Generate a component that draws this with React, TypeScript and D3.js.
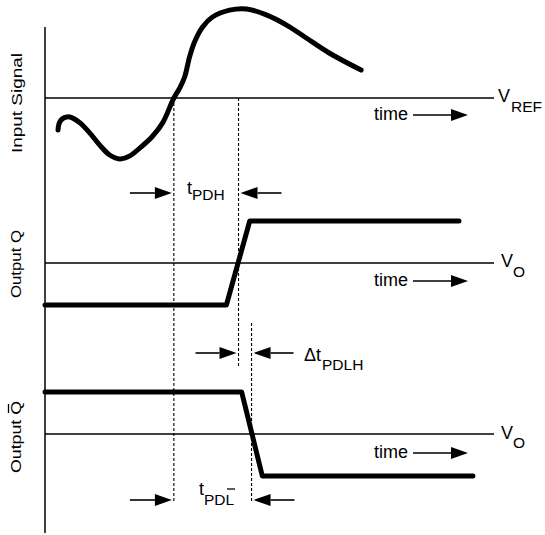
import * as d3 from "d3";
import * as React from "react";

// input signal, time in arbitrary units, volts relative to VREF
const inputTimes = [2.9, 3.1, 3.8, 4.9, 6.2, 7.8, 10.0, 12.2, 14.4, 16.7, 18.9, 21.1, 23.8, 26.2, 28.7, 30.0, 31.1, 32.2, 33.3, 35.1, 37.3, 41.1, 44.9, 49.3, 53.8, 58.2, 63.3, 70.4];
const inputValues = [-1.07, -0.87, -0.7, -0.63, -0.67, -0.83, -1.17, -1.57, -1.9, -2.03, -1.93, -1.67, -1.3, -0.83, 0, 0.33, 0.7, 1.37, 1.87, 2.37, 2.7, 2.93, 2.97, 2.77, 2.43, 2.0, 1.5, 0.93];

// outputs: 0 = low, 1 = high
const qTimes = [0, 40.4, 45.6, 92.2];
const qLevels = [0, 0, 1, 1];
const qbarTimes = [0, 43.8, 48.4, 95.3];
const qbarLevels = [1, 1, 0, 0];

// crossing instants: input at VREF, Q at VO, Qbar at VO
const crossTimes = [28.7, 43.1, 46.0];

const FONT = "'Liberation Sans', Arial, Helvetica, sans-serif";
const SUB = 15.5;

function Arrow({ x1, x2, y }: { x1: number; x2: number; y: number }) {
  const dir = x2 > x1 ? 1 : -1;
  const head = 17;
  const half = 6;
  return (
    <g>
      <line x1={x1} y1={y} x2={x2 - dir * head} y2={y} stroke="#000" strokeWidth={1.6} />
      <path d={`M${x2},${y} L${x2 - dir * head},${y - half} L${x2 - dir * head},${y + half} Z`} fill="#000" />
    </g>
  );
}

function SideLabel({ x, cy, text, length, bar }: { x: number; cy: number; text: string; length: number; bar?: boolean }) {
  return (
    <g transform={"translate(" + x + "," + cy + ") rotate(-90)"}>
      <text x={0} y={0} textAnchor="middle" fontSize={15} fontFamily={FONT} textLength={length} lengthAdjust="spacingAndGlyphs">{text}</text>
      {bar && <line x1={length / 2 - 12} x2={length / 2 - 3} y1={-12.5} y2={-12.5} stroke="#000" strokeWidth={1.3} />}
    </g>
  );
}

export default function App() {
  const width = 545;
  const height = 535;
  const x = d3.scaleLinear().domain([0, 100]).range([45, 494]);
  const yIn = d3.scaleLinear().domain([-2, 3]).range([158, 8]);
  const yQ = d3.scaleLinear().domain([0, 1]).range([305, 221]);
  const yQb = d3.scaleLinear().domain([0, 1]).range([476, 392]);

  const inputLine = d3.line<number>()
    .x((d, i) => x(inputTimes[i]))
    .y((d) => yIn(d))
    .curve(d3.curveCatmullRom.alpha(0.5));
  const qLine = d3.line<number>().x((d, i) => x(qTimes[i])).y((d) => yQ(d));
  const qbLine = d3.line<number>().x((d, i) => x(qbarTimes[i])).y((d) => yQb(d));

  const [tIn, tQ, tQb] = crossTimes.map((t) => x(t));
  const x0 = x.range()[0];
  const xEnd = x.range()[1];
  const vref = yIn(0);
  const vo1 = yQ(0.5);
  const vo2 = yQb(0.5);

  const timeArrow = (y: number) => (
    <g>
      <text x={374} y={y + 5} fontSize={18} fontFamily={FONT}>time</text>
      <Arrow x1={413} x2={468} y={y} />
    </g>
  );

  return (
    <svg width={width} height={height} style={{ position: "absolute", left: 0, top: 0, background: "#fff" }}>
      {/* axis */}
      <line x1={x0} y1={27} x2={x0} y2={533} stroke="#000" strokeWidth={1.5} />
      {/* reference levels */}
      <line x1={x0} y1={vref} x2={xEnd} y2={vref} stroke="#000" strokeWidth={1.5} />
      <line x1={x0} y1={vo1} x2={xEnd} y2={vo1} stroke="#000" strokeWidth={1.5} />
      <line x1={x0} y1={vo2} x2={xEnd} y2={vo2} stroke="#000" strokeWidth={1.5} />

      {/* dashed markers */}
      <line x1={tIn} y1={vref} x2={tIn} y2={503} stroke="#000" strokeWidth={1.1} strokeDasharray="3,2" />
      <line x1={tQ} y1={vref} x2={tQ} y2={368} stroke="#000" strokeWidth={1.1} strokeDasharray="3,2" />
      <line x1={tQb} y1={323} x2={tQb} y2={503} stroke="#000" strokeWidth={1.1} strokeDasharray="3,2" />

      {/* signals */}
      <path d={inputLine(inputValues)} fill="none" stroke="#000" strokeWidth={5} strokeLinecap="round" strokeLinejoin="round" />
      <path d={qLine(qLevels)} fill="none" stroke="#000" strokeWidth={5} strokeLinecap="round" strokeLinejoin="round" />
      <path d={qbLine(qbarLevels)} fill="none" stroke="#000" strokeWidth={5} strokeLinecap="round" strokeLinejoin="round" />

      {/* time arrows */}
      {timeArrow(vref + 17)}
      {timeArrow(vo1 + 18)}
      {timeArrow(vo2 + 19)}

      {/* level labels */}
      <text x={498} y={vref + 4} fontSize={18} fontFamily={FONT}>V</text>
      <text x={511} y={vref + 14} fontSize={SUB} fontFamily={FONT}>REF</text>
      <text x={501} y={vo1 + 4} fontSize={18} fontFamily={FONT}>V</text>
      <text x={513} y={vo1 + 14} fontSize={SUB} fontFamily={FONT}>O</text>
      <text x={501} y={vo2 + 5} fontSize={18} fontFamily={FONT}>V</text>
      <text x={513} y={vo2 + 14} fontSize={SUB} fontFamily={FONT}>O</text>

      {/* tPDH */}
      <Arrow x1={tIn - 44} x2={tIn - 2} y={193} />
      <Arrow x1={tQ + 43} x2={tQ + 2} y={193} />
      <text x={187} y={194} fontSize={18} fontFamily={FONT}>t</text>
      <text x={192} y={200} fontSize={SUB} fontFamily={FONT}>PDH</text>

      {/* delta tPDLH */}
      <Arrow x1={tQ - 43} x2={tQ - 2} y={353} />
      <Arrow x1={tQb + 42} x2={tQb + 2} y={353} />
      <text x={304} y={361} fontSize={18} fontFamily={FONT}>Δt</text>
      <text x={322} y={370} fontSize={SUB} fontFamily={FONT}>PDLH</text>

      {/* tPDL-bar */}
      <Arrow x1={tIn - 44} x2={tIn - 2} y={500} />
      <Arrow x1={tQb + 43} x2={tQb + 2} y={500} />
      <text x={199} y={495} fontSize={18} fontFamily={FONT}>t</text>
      <text x={204} y={505} fontSize={SUB} fontFamily={FONT}>PDL</text>
      <line x1={227} x2={235} y1={489} y2={489} stroke="#000" strokeWidth={1.3} />

      {/* side labels */}
      <SideLabel x={22} cy={103} text="Input Signal" length={100} />
      <SideLabel x={21} cy={264} text="Output Q" length={68} />
      <SideLabel x={21} cy={437} text="Output Q" length={72} bar />
    </svg>
  );
}
